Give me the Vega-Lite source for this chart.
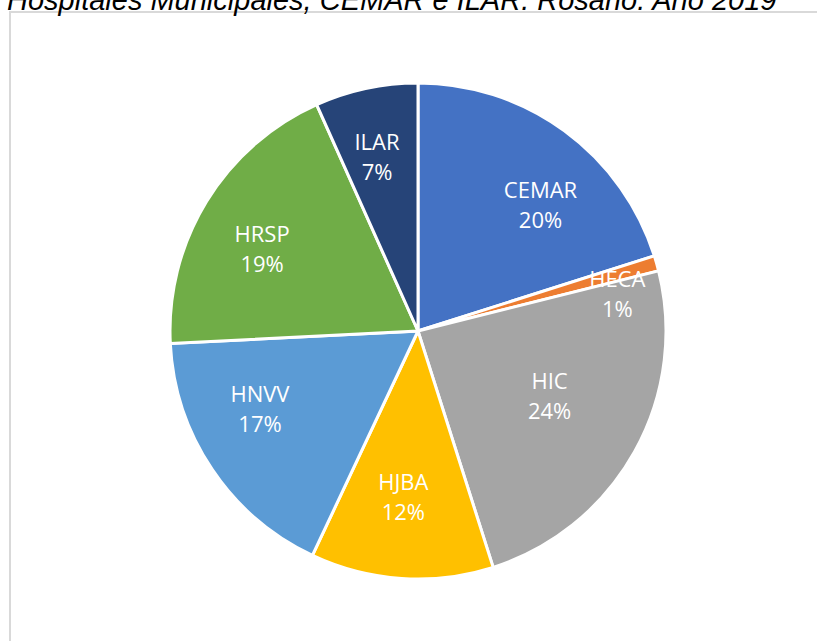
{
  "$schema": "https://vega.github.io/schema/vega-lite/v6.json",
  "autosize": {"type": "none"},
  "padding": {"left": 10, "top": 12, "right": 0, "bottom": 0},
  "width": 816,
  "height": 638,
  "background": "white",
  "view": {"stroke": "#d9d9d9", "strokeWidth": 2},
  "title": {
    "text": "Hospitales Municipales, CEMAR e ILAR. Rosario. Año 2019",
    "anchor": "start",
    "font": "Liberation Sans",
    "fontSize": 29,
    "fontStyle": "italic",
    "fontWeight": "normal",
    "color": "#000000",
    "offset": 4,
    "dx": -3,
    "dy": 8
  },
  "data": {
    "values": [
      {"name": "CEMAR", "value": 20.1, "label": "CEMAR\n20%"},
      {"name": "HECA", "value": 1.0, "label": "HECA\n1%"},
      {"name": "HIC", "value": 24.0, "label": "HIC\n24%"},
      {"name": "HJBA", "value": 11.9, "label": "HJBA\n12%"},
      {"name": "HNVV", "value": 17.2, "label": "HNVV\n17%"},
      {"name": "HRSP", "value": 19.1, "label": "HRSP\n19%"},
      {"name": "ILAR", "value": 6.7, "label": "ILAR\n7%"}
    ]
  },
  "encoding": {
    "theta": {"field": "value", "type": "quantitative", "stack": true},
    "order": {"field": "name", "sort": "ascending"}
  },
  "layer": [
    {
      "mark": {"type": "arc", "outerRadius": 248, "stroke": "white", "strokeWidth": 3},
      "encoding": {
        "color": {
          "field": "name",
          "type": "nominal",
          "legend": null,
          "scale": {
            "domain": ["CEMAR", "HECA", "HIC", "HJBA", "HNVV", "HRSP", "ILAR"],
            "range": ["#4472C4", "#ED7D31", "#A5A5A5", "#FFC000", "#5B9BD5", "#70AD47", "#264478"]
          }
        }
      }
    },
    {
      "mark": {
        "type": "text",
        "radius": 177,
        "fill": "white",
        "font": "Open Sans",
        "fontSize": 22,
        "lineBreak": "\n",
        "lineHeight": 30,
        "baseline": "middle",
        "dx": {"expr": "datum.name === 'CEMAR' ? 18 : datum.name === 'HRSP' ? -5 : datum.name === 'HNVV' ? -11 : datum.name === 'HIC' ? -23 : datum.name === 'HECA' ? 29 : datum.name === 'HJBA' ? -3 : -4"},
        "dy": {"expr": "datum.name === 'CEMAR' ? 3 : datum.name === 'HRSP' ? -4 : datum.name === 'HNVV' ? -35 : datum.name === 'HIC' ? -35 : datum.name === 'HECA' ? -3 : datum.name === 'HJBA' ? -25 : -15"}
      },
      "encoding": {
        "text": {"field": "label"}
      }
    }
  ]
}
